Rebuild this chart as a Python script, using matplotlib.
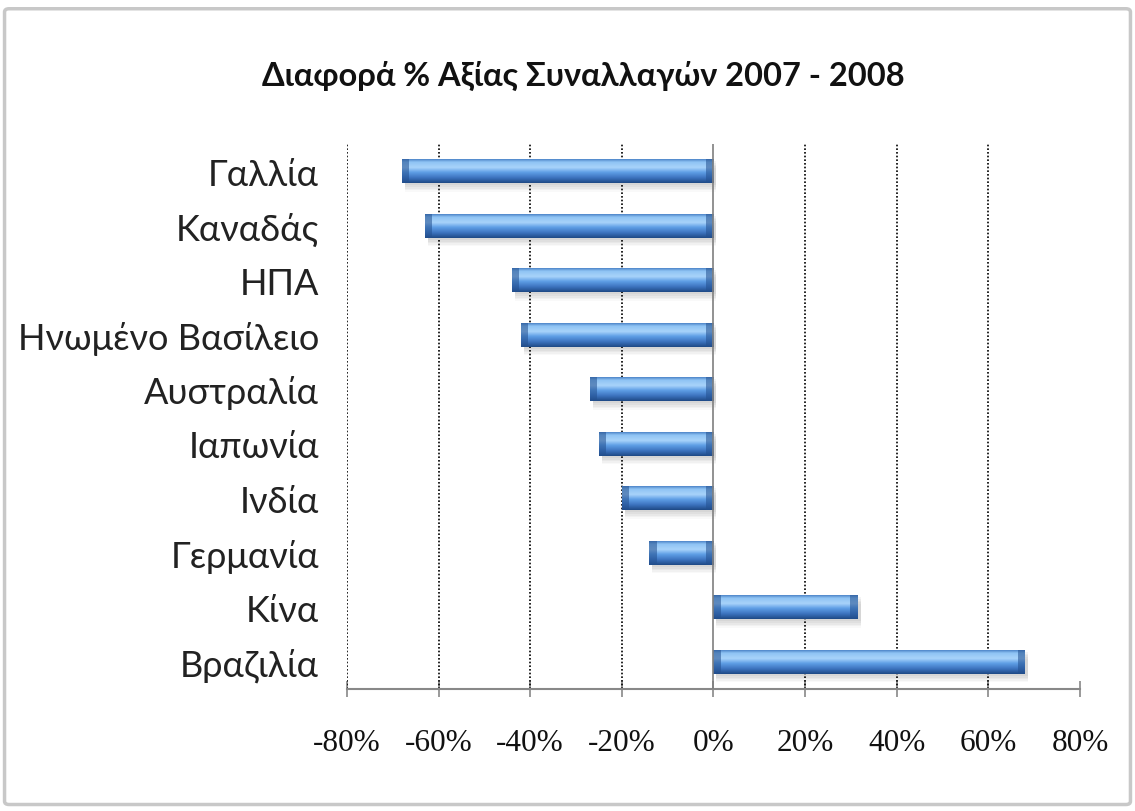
import matplotlib.pyplot as plt
import numpy as np
from matplotlib.colors import LinearSegmentedColormap
from matplotlib.patches import FancyBboxPatch, Rectangle
from matplotlib.ticker import FuncFormatter

# Μεταβολή αξίας συναλλαγών 2007 - 2008 ανά χώρα (%)
countries = ['Γαλλία', 'Καναδάς', 'ΗΠΑ', 'Ηνωμένο Βασίλειο', 'Αυστραλία',
             'Ιαπωνία', 'Ινδία', 'Γερμανία', 'Κίνα', 'Βραζιλία']
change = [-68, -63, -44, -42, -27, -25, -20, -14, 31.5, 68]
title = 'Διαφορά % Αξίας Συναλλαγών 2007 - 2008'
xticks = [-80, -60, -40, -20, 0, 20, 40, 60, 80]

ylabel_font = ['Lato', 'Liberation Sans', 'DejaVu Sans']
xlabel_font = ['Liberation Serif', 'DejaVu Serif']
title_font = ['Lato', 'Open Sans', 'DejaVu Sans']

fig = plt.figure(figsize=(11.35, 8.12), dpi=100)
fig.patch.set_facecolor('white')

# γκρι πλαίσιο γύρω από το γράφημα
frame = FancyBboxPatch((0.004, 0.008), 0.992, 0.98, boxstyle='round,pad=0,rounding_size=0.004',
                       transform=fig.transFigure, fill=False, edgecolor='#c8c8c8', linewidth=2.5)
fig.patches.append(frame)

ax = fig.add_axes([0.3057, 0.1502, 0.6458, 0.6712])

y = np.arange(len(countries))[::-1]
bar_h = 0.44

# κάθετο χρώμα ράβδων (πάνω -> κάτω)
grad = LinearSegmentedColormap.from_list('bevel', [
    (0.0, '#4f86c9'), (0.12, '#8fc4f4'), (0.35, '#a8d3fa'),
    (0.55, '#5f9fe6'), (0.78, '#3d74c0'), (1.0, '#1f4a86')])
img = np.linspace(0, 1, 64).reshape(-1, 1)

for yi, v in zip(y, change):
    x0, x1 = min(0, v), max(0, v)
    # σκιά κάτω από τη ράβδο
    for k, a in enumerate([0.07, 0.07, 0.06, 0.05, 0.04]):
        ax.add_patch(Rectangle((x0 + 0.6, yi - bar_h / 2 - 0.04 - k * 0.03), x1 - x0,
                               bar_h, facecolor='#6a6a6a', alpha=a, linewidth=0, zorder=1))
    bar = ax.barh(yi, v, height=bar_h, color='#4a86d0', linewidth=0, zorder=3)[0]
    im = ax.imshow(img, cmap=grad, aspect='auto', zorder=4,
                   extent=(x0, x1, yi - bar_h / 2, yi + bar_h / 2))
    im.set_clip_path(bar)
    # σκουρότερες άκρες
    cap = 1.6
    for cx in (x0, x1 - cap):
        ax.add_patch(Rectangle((cx, yi - bar_h / 2), cap, bar_h, facecolor='#23508f',
                               alpha=0.55, linewidth=0, zorder=5))

ax.set_xlim(-80, 80)
ax.set_ylim(-0.5, len(countries) - 0.5)

for g in xticks[:-1]:
    if g == 0:
        ax.axvline(0, color='#7f7f7f', linewidth=1.2, zorder=6)
    else:
        ax.axvline(g, color='#000000', linestyle=(0, (1, 1.2)), linewidth=1.2, zorder=2)

ax.set_xticks(xticks)
ax.xaxis.set_major_formatter(FuncFormatter(lambda v, p: f'{v:.0f}%'))
ax.set_yticks(y)
ax.set_yticklabels(countries)

for s in ['top', 'right', 'left']:
    ax.spines[s].set_visible(False)
ax.spines['bottom'].set_color('#888888')
ax.spines['bottom'].set_linewidth(1.5)
ax.tick_params(axis='x', direction='inout', length=12, width=1.2, color='#888888', pad=22)
ax.tick_params(axis='y', length=0, pad=20)

for lbl in ax.get_xticklabels():
    lbl.set_fontfamily(xlabel_font)
    lbl.set_fontsize(22.5)
    lbl.set_color('#111111')
for lbl in ax.get_yticklabels():
    lbl.set_fontfamily(ylabel_font)
    lbl.set_fontsize(26)
    lbl.set_color('#222222')

fig.text(0.514, 0.906, title, ha='center', va='center', fontsize=23.5,
         fontweight='bold', family=title_font, color='#111111')

fig.savefig('out.png', dpi=100)
